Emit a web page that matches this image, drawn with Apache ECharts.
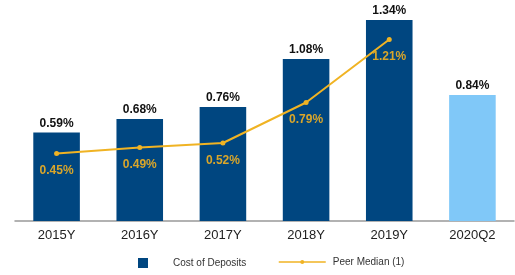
<!DOCTYPE html>
<html>
<head>
<meta charset="utf-8">
<script src="https://cdn.jsdelivr.net/npm/echarts@6/dist/echarts.min.js"></script>
<style>html,body{margin:0;padding:0;background:#fff;}#c{width:515px;height:275px;}</style>
</head>
<body>
<div id="c"></div>
<script>
var categories = ['2015Y', '2016Y', '2017Y', '2018Y', '2019Y', '2020Q2'];
var costOfDeposits = [0.59, 0.68, 0.76, 1.08, 1.34, 0.84];
var peerMedian = [0.45, 0.49, 0.52, 0.79, 1.21, null];
var barColors = ['#004680', '#004680', '#004680', '#004680', '#004680', '#80c8f8'];

var chart = echarts.init(document.getElementById('c'));
var font = 'Liberation Sans, Arial, sans-serif';
chart.setOption({
  animation: false,
  textStyle: { fontFamily: font },
  grid: { left: 15, right: 1, top: 11, bottom: 54, containLabel: false },
  legend: [
    {
      data: [{ name: 'Cost of Deposits', icon: 'rect' }],
      left: 138, top: 258, padding: 0,
      itemWidth: 10, itemHeight: 10,
      textStyle: { fontSize: 10, color: '#333', fontFamily: font, padding: [0, 0, 0, 20] }
    },
    {
      data: ['Peer Median (1)'],
      left: 278, top: 257, padding: 0,
      itemWidth: 47, itemHeight: 5,
      lineStyle: { width: 1.5 },
      textStyle: { fontSize: 10, color: '#333', fontFamily: font, padding: [0, 0, 0, 2] }
    }
  ],
  xAxis: {
    type: 'category',
    data: categories,
    axisLine: { lineStyle: { color: '#999', width: 1.5 } },
    axisTick: { show: false },
    axisLabel: { fontSize: 13, color: '#222', margin: 8, fontFamily: font }
  },
  yAxis: {
    type: 'value', min: 0, max: 1.4,
    show: false,
    splitLine: { show: false }
  },
  series: [
    {
      name: 'Cost of Deposits',
      type: 'bar',
      barWidth: '56%',
      itemStyle: { color: '#004680' },
      data: costOfDeposits.map(function (v, i) {
        return { value: v, itemStyle: { color: barColors[i] } };
      }),
      label: {
        show: true, position: 'top', distance: 3,
        fontSize: 12, fontWeight: 'bold', color: '#111', fontFamily: font,
        formatter: function (p) { return p.value.toFixed(2) + '%'; }
      }
    },
    {
      name: 'Peer Median (1)',
      type: 'line',
      data: peerMedian,
      color: '#f0b323',
      lineStyle: { color: '#f0b323', width: 2 },
      itemStyle: { color: '#f0b323' },
      symbol: 'circle', symbolSize: 5,
      label: {
        show: true, position: 'bottom', distance: 9,
        fontSize: 12, fontWeight: 'bold', color: '#d9a62a', fontFamily: font,
        formatter: function (p) { return p.value.toFixed(2) + '%'; }
      }
    }
  ]
});
</script>
</body>
</html>
